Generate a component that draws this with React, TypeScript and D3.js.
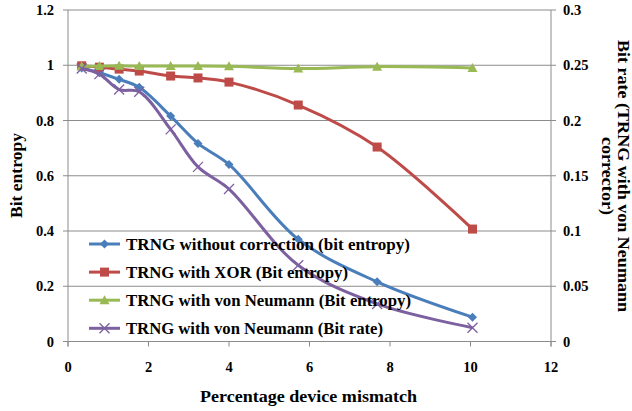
import React from "react";
import * as d3 from "d3";

const mismatch = [0.34, 0.78, 1.27, 1.77, 2.55, 3.23, 4.0, 5.72, 7.68, 10.05];
const noCorrection = [0.99, 0.973, 0.949, 0.92, 0.816, 0.717, 0.641, 0.37, 0.216, 0.088];
const xorEntropy = [0.998, 0.993, 0.986, 0.979, 0.961, 0.954, 0.939, 0.856, 0.704, 0.407];
const vnEntropy = [0.996, 0.997, 0.998, 0.997, 0.997, 0.997, 0.996, 0.988, 0.995, 0.99];
const vnBitRate = [0.247, 0.242, 0.228, 0.226, 0.192, 0.158, 0.138, 0.069, 0.034, 0.0125];

const xTicks = [0, 2, 4, 6, 8, 10, 12];
const yTicks = [0, 0.2, 0.4, 0.6, 0.8, 1, 1.2];
const y2Ticks = [0, 0.05, 0.1, 0.15, 0.2, 0.25, 0.3];

const legendLabels = [
  "TRNG without correction (bit entropy)",
  "TRNG with XOR (Bit entropy)",
  "TRNG with von Neumann (Bit entropy)",
  "TRNG with von Neumann (Bit rate)",
];
const legendWidths = [284, 222, 285, 257];

const W = 632, H = 411;
const L = 68, R = 551, T = 10, B = 341.5;
const txt: React.CSSProperties = { fontFamily: "Liberation Serif", fontWeight: 700 };
const gridColor = "#8c8c8c";

const colors = ["#4a7ebb", "#be4b48", "#98b954", "#7d60a0"];

function Marker({ kind, x, y, color }: { kind: number; x: number; y: number; color: string }) {
  if (kind === 0) {
    const s = 4.5;
    return <path d={`M${x},${y - s}L${x + s},${y}L${x},${y + s}L${x - s},${y}Z`} fill={color} />;
  }
  if (kind === 1) {
    const s = 4.5;
    return <rect x={x - s} y={y - s} width={2 * s} height={2 * s} fill={color} />;
  }
  if (kind === 2) {
    const s = 5;
    return <path d={`M${x},${y - s}L${x + s},${y + s * 0.8}L${x - s},${y + s * 0.8}Z`} fill={color} />;
  }
  const s = 5;
  return (
    <path d={`M${x - s},${y - s}L${x + s},${y + s}M${x + s},${y - s}L${x - s},${y + s}`} stroke={color} strokeWidth={1.3} fill="none" />
  );
}

export default function App() {
  const x = d3.scaleLinear().domain([0, 12]).range([L, R]);
  const y = d3.scaleLinear().domain([0, 1.2]).range([B, T]);
  const y2 = d3.scaleLinear().domain([0, 0.3]).range([B, T]);

  const series = [
    { vals: noCorrection, sc: y },
    { vals: xorEntropy, sc: y },
    { vals: vnEntropy, sc: y },
    { vals: vnBitRate, sc: y2 },
  ];

  const lineGen = (sc: d3.ScaleLinear<number, number>) =>
    d3
      .line<number>()
      .x((_, i) => x(mismatch[i]))
      .y((d) => sc(d))
      .curve(d3.curveCatmullRom.alpha(0.5));

  const legendX1 = 89, legendX2 = 120, legendY0 = 244, legendStep = 28.1;

  return (
    <svg width={W} height={H} style={{ position: "absolute", left: 0, top: 0, background: "#fff" }}>
      {yTicks.map((t) => (
        <line key={"g" + t} x1={L} x2={R} y1={y(t)} y2={y(t)} stroke={gridColor} strokeWidth={1} />
      ))}
      <line x1={L} x2={L} y1={T} y2={B + 5} stroke={gridColor} />
      <line x1={R} x2={R} y1={T} y2={B + 5} stroke={gridColor} />
      <line x1={L} x2={R} y1={B} y2={B} stroke={gridColor} />
      {yTicks.map((t) => (
        <line key={"lt" + t} x1={L - 5} x2={L} y1={y(t)} y2={y(t)} stroke={gridColor} />
      ))}
      {y2Ticks.map((t) => (
        <line key={"rt" + t} x1={R} x2={R + 5} y1={y2(t)} y2={y2(t)} stroke={gridColor} />
      ))}
      {xTicks.map((t) => (
        <line key={"xt" + t} x1={x(t)} x2={x(t)} y1={B} y2={B + 5} stroke={gridColor} />
      ))}
      {yTicks.map((t) => (
        <text key={"yl" + t} x={L - 14} y={y(t) + 5} fontSize={14.5} textAnchor="end" style={txt}>
          {d3.format("~g")(t)}
        </text>
      ))}
      {y2Ticks.map((t) => (
        <text key={"y2l" + t} x={R + 12} y={y2(t) + 5} fontSize={14.5} textAnchor="start" style={txt}>
          {d3.format("~g")(t)}
        </text>
      ))}
      {xTicks.map((t) => (
        <text key={"xl" + t} x={x(t)} y={371.5} fontSize={14.5} textAnchor="middle" style={txt}>
          {t}
        </text>
      ))}
      <text x={200} y={401.5} fontSize={17.5} textLength={217} lengthAdjust="spacingAndGlyphs" style={txt}>
        Percentage device mismatch
      </text>
      <text transform={`translate(21.5,218) rotate(-90)`} fontSize={16.5} textLength={85} lengthAdjust="spacingAndGlyphs" style={txt}>
        Bit entropy
      </text>
      <text transform={`translate(617.5,40) rotate(90)`} fontSize={16.5} textLength={272} lengthAdjust="spacingAndGlyphs" style={txt}>
        Bit rate (TRNG with von Neumann
      </text>
      <text transform={`translate(601.5,137) rotate(90)`} fontSize={16.5} textLength={78} lengthAdjust="spacingAndGlyphs" style={txt}>
        corrector)
      </text>
      {series.map((s, k) => (
        <g key={"s" + k}>
          <path d={lineGen(s.sc)(s.vals) || ""} fill="none" stroke={colors[k]} strokeWidth={3} />
          {s.vals.map((v, i) => (
            <Marker key={i} kind={k} x={x(mismatch[i])} y={s.sc(v)} color={colors[k]} />
          ))}
        </g>
      ))}
      {legendLabels.map((lab, k) => {
        const ly = legendY0 + k * legendStep;
        return (
          <g key={"lg" + k}>
            <line x1={legendX1} x2={legendX2} y1={ly} y2={ly} stroke={colors[k]} strokeWidth={3} />
            <Marker kind={k} x={(legendX1 + legendX2) / 2} y={ly} color={colors[k]} />
            <text x={126} y={ly + 6} fontSize={16} textLength={legendWidths[k]} lengthAdjust="spacingAndGlyphs" style={txt}>
              {lab}
            </text>
          </g>
        );
      })}
    </svg>
  );
}
